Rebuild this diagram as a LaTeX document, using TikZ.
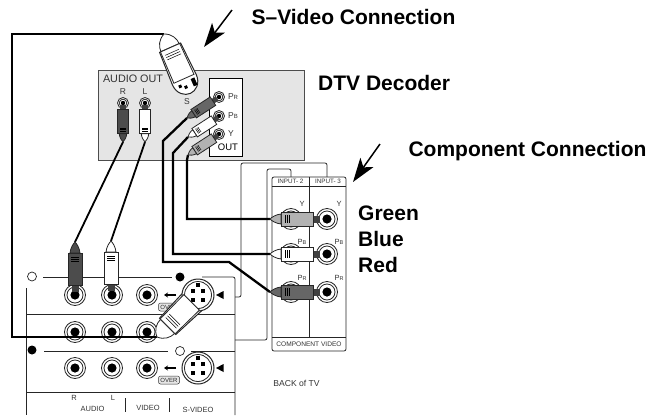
\documentclass[tikz,border=0pt]{standalone}
\usepackage{fontspec}
\setmainfont{Liberation Sans}
\usetikzlibrary{arrows.meta}

\begin{document}
\begin{tikzpicture}[
        x=1pt,y=-1pt,
        thinline/.style={draw=black!85,line width=.8pt},
        wire/.style={draw=black,line width=2.3pt,line join=miter},
        title/.style={inner sep=0pt,font=\fontsize{21}{21}\bfseries\selectfont},
        panellabel/.style={inner sep=0pt,text=black!80,font=\fontsize{7.5}{8}\selectfont},
        callout/.style={draw=black,line width=1.5pt,-{Stealth[length=24pt,width=16pt,inset=6pt]}},
        rcajack/.pic={
            \draw[thinline,fill=white] (0,0) circle (10.5);
            \draw[thinline] (0,0) circle (8);
            \fill[black] (0,0) circle (4.6);
        },
        rcaplug/.pic={
            \fill[black!75] (43,-3.5) rectangle (50,3.5);
            \draw[thinline,fill=#1] (11,-7) -- (43,-7) -- (43,7) -- (11,7) -- cycle;
            \draw[thinline,fill=#1] (11,-5) .. controls (6,-4.5) and (2,-2) .. (0,0)
                .. controls (2,2) and (6,4.5) .. (11,5) -- cycle;
            \foreach \ribx in {15,17,19} {\draw[black,line width=.5pt] (\ribx,-4) -- (\ribx,4);}
        },
        svsocket/.pic={
            \draw[thinline,fill=white,line width=1pt] (0,0) circle (16);
            \draw[thinline] (0,0) circle (13.5);
            \fill[black] (-7,-6) rectangle (-3,-2);
            \fill[black] (3,-6) rectangle (7,-2);
            \fill[black] (-7,3) rectangle (-3,7);
            \fill[black] (3,3) rectangle (7,7);
            \fill[black] (-2,-12) rectangle (2,-8);
        },
        svcasing/.pic={
            \draw[thinline,fill=white] (15,-10) .. controls (9,-10) and (3,-7) .. (0,0)
                .. controls (3,7) and (9,10) .. (15,10) -- cycle;
            \draw[thinline,fill=white,line width=1pt] (15,-11.5) -- (50,-13)
                .. controls (60,-13) and (65,-6) .. (65,0) .. controls (65,6) and (60,13) .. (50,13) -- (15,11.5) -- cycle;
        },
        svbody/.pic={
            \draw[thinline,fill=white] (15,-10.5) -- (49,-11) -- (49,11) -- (15,10.5) -- cycle;
            \foreach \ribx in {20,22.5,25} {\draw[black,line width=.5pt] (\ribx,-7.5) -- (\ribx,7.5);}
        },
        svpins/.pic={
            \fill[black] (52,-10) rectangle (60,-6);
            \fill[black] (56,0) rectangle (59,3);
            \fill[black] (53,5) rectangle (56,8);
        }
    ]
        \useasboundingbox (0,0) rectangle (649,416);

        % Decoder
        \node (decoder) at (201,115) [draw=black!70,line width=.8pt,fill=black!10,minimum width=206pt,minimum height=90pt,inner sep=0pt] {};
        \node (outbox) at (225.7,117) [draw=black,line width=.7pt,fill=white,minimum width=32.5pt,minimum height=78pt,inner sep=0pt] {};
        \node (audioout) at (133,79) [inner sep=0pt,text=black!80,font=\fontsize{10.8}{11}\selectfont] {AUDIO OUT};
        \node (audior) at (123,92) [inner sep=0pt,text=black!80,font=\fontsize{8.5}{9}\selectfont] {R};
        \node (audiol) at (145,92) [inner sep=0pt,text=black!80,font=\fontsize{8.5}{9}\selectfont] {L};
        \node (slabel) at (187,102) [inner sep=0pt,text=black!80,font=\fontsize{8.5}{9}\selectfont] {S};
        \node (prlabel) at (233,97) [inner sep=0pt,text=black!80,font=\fontsize{8.5}{9}\selectfont] {P{\fontsize{6}{6}\selectfont R}};
        \node (pblabel) at (233,116) [inner sep=0pt,text=black!80,font=\fontsize{8.5}{9}\selectfont] {P{\fontsize{6}{6}\selectfont B}};
        \node (ylabel) at (231,134) [inner sep=0pt,text=black!80,font=\fontsize{8.5}{9}\selectfont] {Y};
        \node (outlabel) at (228,147) [inner sep=0pt,font=\fontsize{9.5}{10}\selectfont] {OUT};
        \foreach \jackname/\jackx/\jacky in {jackr/123/103,jackl/145/103,jackpr/219/97,jackpb/219/116,jacky/219/134} {
            \coordinate (\jackname) at (\jackx,\jacky);
            \draw[thinline,fill=white] (\jackname) circle (5.5);
            \draw[thinline] (\jackname) circle (3.8);
            \fill[black] (\jackname) circle (2.2);
        }

        % Back of TV, outlines
        \draw[thinline,rounded corners=2pt] (235,297) -- (241,297) -- (241,163) -- (327,163) -- (327,177);
        \draw[thinline,rounded corners=2pt] (235,340) -- (267,340) -- (267,169) -- (291,169) -- (291,177);

        % Component panel
        \draw[thinline,fill=white,rounded corners=2pt] (272,186) -- (272,177) -- (346,177) -- (346,351) -- (272,351) -- cycle;
        \draw[thinline] (272,186) -- (346,186);
        \draw[thinline] (272,337) -- (346,337);
        \draw[thinline] (309,177) -- (309,337);
        \node (input2) at (290.5,181.5) [panellabel,font=\fontsize{6.3}{7}\selectfont] {INPUT- 2};
        \node (input3) at (328,181.5) [panellabel,font=\fontsize{6.3}{7}\selectfont] {INPUT- 3};
        \node (compvideo) at (309,344) [panellabel,font=\fontsize{6.6}{7}\selectfont] {COMPONENT VIDEO};
        \node (ya) at (302,204) [panellabel] {Y};
        \node (yb) at (339,204) [panellabel] {Y};
        \node (pba) at (302,242) [panellabel] {P{\fontsize{5.5}{6}\selectfont B}};
        \node (pbb) at (339,242) [panellabel] {P{\fontsize{5.5}{6}\selectfont B}};
        \node (pra) at (302,278) [panellabel] {P{\fontsize{5.5}{6}\selectfont R}};
        \node (prb) at (339,278) [panellabel] {P{\fontsize{5.5}{6}\selectfont R}};
        \foreach \rowy in {219,254,292} {
            \pic at (291,\rowy) {rcajack};
            \pic at (327,\rowy) {rcajack};
        }
        \node (backtv) at (296.5,383) [inner sep=0pt,text=black!80,font=\fontsize{8.6}{9}\selectfont] {BACK of TV};

        % Input panel
        \draw[thinline] (26,288) -- (26,415);
        \draw[thinline,rounded corners=2pt] (202,277) -- (235,277) -- (235,415);
        \draw[thinline] (26,314) -- (235,314);
        \draw[thinline] (26,392) -- (235,392);
        \draw[thinline] (43,277) -- (172,277);
        \draw[thinline] (44,351) -- (168,351);
        \draw[thinline] (191,351) -- (235,351);
        \draw[thinline] (125,398) -- (125,412);
        \draw[thinline] (169.5,398) -- (169.5,412);
        \node (dotopena) at (32,276.5) [draw=black!85,line width=.7pt,fill=white,circle,minimum width=9pt,inner sep=0pt] {};
        \node (dotfilla) at (180,277) [fill=black,circle,minimum width=9pt,inner sep=0pt] {};
        \node (dotfillb) at (32,350) [fill=black,circle,minimum width=9pt,inner sep=0pt] {};
        \node (dotopenb) at (180,351) [draw=black!85,line width=.7pt,fill=white,circle,minimum width=9pt,inner sep=0pt] {};
        \foreach \rowy in {295,332,368} {
            \pic at (75,\rowy) {rcajack};
            \pic at (112,\rowy) {rcajack};
            \pic at (147,\rowy) {rcajack};
        }
        \foreach \rowy in {295,368} {
            \fill[black] (216,\rowy) -- (223.5,\rowy-4) -- (223.5,\rowy+4) -- cycle;
            \draw[black,line width=1.5pt,-{Stealth[length=4pt,width=5pt]}] (176,\rowy) -- (164,\rowy);
            \node at (169,\rowy+12) [draw=black!80,line width=.5pt,fill=black!10,rounded corners=2pt,minimum width=21pt,minimum height=8pt,inner sep=0pt,text=black!85,font=\fontsize{6}{6}\selectfont] {OVER};
        }
        \node (inr) at (74,398) [panellabel] {R};
        \node (inl) at (113,398) [panellabel] {L};
        \node (inaudio) at (92.5,409) [panellabel] {AUDIO};
        \node (invideo) at (148,408) [panellabel] {VIDEO};
        \node (insvideo) at (198,410) [panellabel] {S-VIDEO};

        % Wires
        \coordinate (svtop) at (164,34);
        \coordinate (svbottom) at (157,337);
        \coordinate (rtop) at (123,142);
        \coordinate (ltop) at (145,142);
        \coordinate (rbottom) at (75,242);
        \coordinate (lbottom) at (111,241);
        \coordinate (prout) at (187,118);
        \coordinate (pbout) at (188,137);
        \coordinate (yout) at (188,155);
        \coordinate (yin) at (270,219);
        \coordinate (pbin) at (270,254);
        \coordinate (prin) at (270,292);
        \draw[wire] (svtop) -- (12,34) -- (12,337) -- (svbottom);
        \draw[wire,line width=1.8pt] (rtop) -- (rbottom);
        \draw[wire,line width=1.8pt] (ltop) -- (lbottom);
        \draw[wire] (prout) -- (163,141) -- (163,262) -- (229,262) -- (prin);
        \draw[wire] (pbout) -- (173,153) -- (173,254) -- (pbin);
        \draw[wire] (yout) -- (187,160) -- (187,219) -- (yin);

        % Plugs
        \pic[rotate=90,scale=.75] at (rtop) {rcaplug=black!70};
        \pic[rotate=90,scale=.75] at (ltop) {rcaplug=white};
        \pic[rotate=33,scale=.72] at (prout) {rcaplug=black!60};
        \pic[rotate=33,scale=.72] at (pbout) {rcaplug=white};
        \pic[rotate=33,scale=.72] at (yout) {rcaplug=black!30};
        \pic[rotate=-90] at (rbottom) {rcaplug=black!70};
        \pic[rotate=-90] at (lbottom) {rcaplug=white};
        \pic at (yin) {rcaplug=black!30};
        \pic at (pbin) {rcaplug=white};
        \pic at (prin) {rcaplug=black!60};
        \pic[rotate=-66] at (svtop) {svcasing};
        \pic[rotate=-66] at (svtop) {svpins};
        \pic[rotate=-66] at (svtop) {svbody};
        \pic[rotate=45] at (svbottom) {svcasing};
        \pic at (198,295) {svsocket};
        \pic[rotate=45] at (svbottom) {svbody};
        \pic at (198,368) {svsocket};

        % Labels
        \node (svtitle) at (353.5,17) [title] {S–Video Connection};
        \node (dtvtitle) at (318,83) [title,anchor=west] {DTV Decoder};
        \node (comptitle) at (527.5,151) [title] {Component Connection};
        \node (green) at (358,213) [title,anchor=west] {Green};
        \node (blue) at (358,239) [title,anchor=west] {Blue};
        \node (red) at (358,265) [title,anchor=west] {Red};
        \coordinate (svarrow) at (232,10);
        \coordinate (svarrowend) at (204,47);
        \coordinate (comparrow) at (380,144);
        \coordinate (comparrowend) at (353,182);
        \draw[callout] (svarrow) -- (svarrowend);
        \draw[callout] (comparrow) -- (comparrowend);
    \end{tikzpicture}
\end{document}
